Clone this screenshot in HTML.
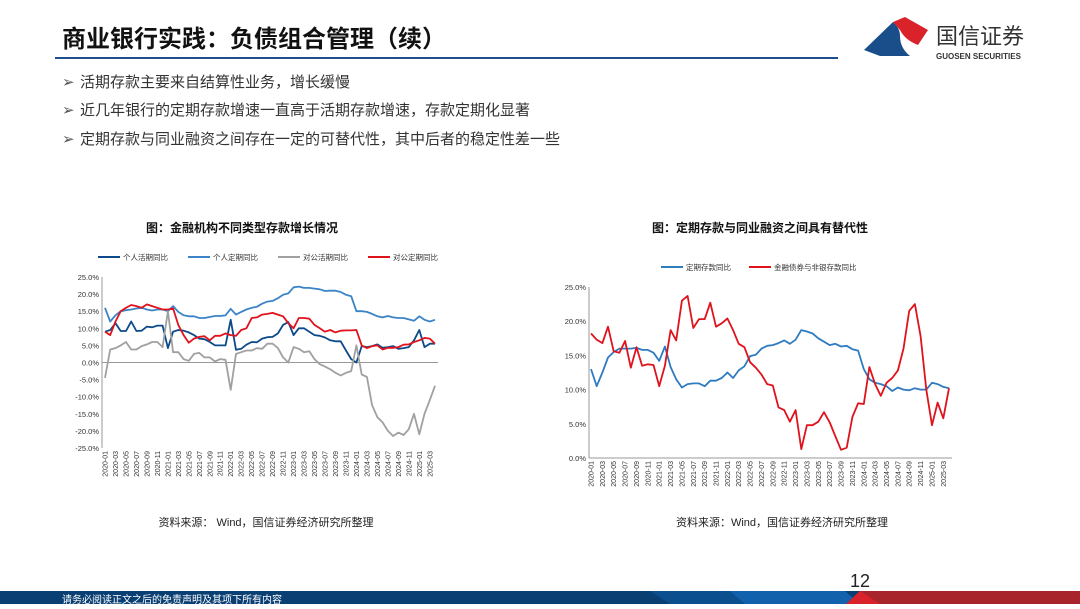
<!DOCTYPE html>
<html><head><meta charset="utf-8"><style>
body{margin:0;width:1080px;height:604px;overflow:hidden;background:#fff;font-family:"Liberation Sans","Noto Sans CJK SC",sans-serif;}
svg text{font-family:"Liberation Sans","Noto Sans CJK SC",sans-serif;}
</style></head><body>
<svg id="page" width="1080" height="604" viewBox="0 0 1080 604">
<text x="62" y="47" font-size="24" font-weight="bold" fill="#111">商业银行实践：负债组合管理（续）</text>
<rect x="55" y="57" width="783" height="2" fill="#1f4e8c"/>
<g>
<path d="M864 50 L893 22 Q900 28 900 36 Q900 48 910 56 L880 56 Z" fill="#1a4e8a"/>
<path d="M893 22 L905 17 L928 30 L918 45 Q905 40 900 30 Z" fill="#d9222a"/>
<text x="936" y="44" font-size="22" fill="#333">国信证券</text>
<text x="936" y="59" font-size="8" font-weight="bold" fill="#333">GUOSEN SECURITIES</text>
</g>
<g font-size="15" fill="#333">
<text x="62" y="87"><tspan fill="#555">➢</tspan><tspan x="80">活期存款主要来自结算性业务，增长缓慢</tspan></text>
<text x="62" y="115"><tspan fill="#555">➢</tspan><tspan x="80">近几年银行的定期存款增速一直高于活期存款增速，存款定期化显著</tspan></text>
<text x="62" y="144"><tspan fill="#555">➢</tspan><tspan x="80">定期存款与同业融资之间存在一定的可替代性，其中后者的稳定性差一些</tspan></text>
</g>
<text x="242" y="232" font-size="12" font-weight="bold" text-anchor="middle" fill="#111">图：金融机构不同类型存款增长情况</text>
<text x="760" y="232" font-size="12" font-weight="bold" text-anchor="middle" fill="#111">图：定期存款与同业融资之间具有替代性</text>
<g id="left"></g>
<g id="right"></g>
<text x="266" y="526" font-size="11" text-anchor="middle" fill="#222">资料来源： Wind，国信证券经济研究所整理</text>
<text x="782" y="526" font-size="11" text-anchor="middle" fill="#222">资料来源：Wind，国信证券经济研究所整理</text>
<text x="850" y="587" font-size="18" fill="#222">12</text>
<g>
<rect x="0" y="591" width="1080" height="13" fill="#0a3f73"/>
<path d="M650 591 L830 591 L850 604 L670 604 Z" fill="#0b4f8f"/>
<path d="M730 591 L845 591 L860 604 L745 604 Z" fill="#1261ad"/>
<path d="M860 591 L1080 591 L1080 604 L846 604 Z" fill="#a8252c"/>
<path d="M860 591 L880 604 L846 604 Z" fill="#d9222a"/>
<text x="62" y="603" font-size="10" fill="#fff">请务必阅读正文之后的免责声明及其项下所有内容</text>
</g>
</svg>
<script>
const months=[];for(let y=2020;y<=2025;y++)for(let m=1;m<=12;m++){if(y===2025&&m>4)break;months.push(y+'-'+String(m).padStart(2,'0'));}
const personalDemand=[9,9.5,11.5,9.2,9.2,12,9.2,9.3,10.5,10.3,10.8,10.8,4.2,9,9.5,9.3,8.8,8,7,6.8,6,5,5,5,12.5,3.7,4,5.2,6,5.9,7,7.4,7.5,8.5,11,11.8,8,10,10,9,8,7.8,7.3,6.5,6.2,6.2,3.5,1,0,4.8,4.5,4.8,5.3,4.3,4.5,4.8,4,4.2,4.5,6.5,9.5,4.5,5.5,5.5];
const personalTime=[16,12,13.8,15,15.3,15.5,15.8,16,15.5,15.2,15.5,15.5,15,16.5,14.8,13.8,13.5,13.5,13,13,13.3,13.6,13.6,13.8,15.7,14,14.8,15.5,16,16.3,17.2,17.8,18,18.8,19.8,20.2,22,22.2,21.8,21.8,21.6,21.4,20.9,21,21,20.6,19.8,19.4,15,15,14.8,14.2,13.5,13.2,13.6,13.2,13,13,12.6,12.2,13.5,12.5,12,12.5];
const corpDemand=[-4.5,3.8,4.2,5,6,3.8,3.8,4.8,5.3,6,6,4.5,15,3,3,1,0.5,2.5,2.8,1.5,1.5,0.3,1,0.8,-8,2.5,3,3.5,3.5,4.2,4,5.5,5.5,4.2,1.5,0,4.5,4,3,3.3,1,-0.5,-1.2,-2,-3,-3.8,-3,-2.5,5,-3.5,-4.2,-12.5,-16,-17.5,-20,-21.5,-20.5,-21.2,-19.5,-15,-21,-15,-11,-6.8];
const corpTime=[9,8,12,15,16,16.8,16.5,16,17,16.5,16,15.5,15.5,15.8,11,8,5.8,7,7.5,7.7,6.5,7.8,7.8,8.5,8,7.8,9.5,10,13,13.2,14,14.2,14.5,14,13.5,11.5,10,13,13,12.8,11,10,9,9.5,8.8,9.3,9.4,9.4,9.5,5,4.2,4.8,5,3.8,4.3,4.3,4.5,5.2,5.3,6,6.5,7.2,7,5.5];
const timeDeposit=[13,10.5,12.5,14.7,15.5,16,16,16,16.1,15.8,15.8,15.4,14.2,16.3,13.3,11.5,10.3,10.8,10.9,10.9,10.5,11.3,11.3,11.7,12.5,11.7,12.8,13.4,14.9,15.1,16,16.4,16.5,16.8,17.2,16.7,17.3,18.7,18.5,18.2,17.5,17,16.5,16.7,16.3,16.4,15.9,15.7,13,11.5,11,10.8,10.5,9.8,10.3,10,9.9,10.2,10,10,11,10.8,10.4,10.2];
const interbank=[18.2,17.3,16.8,19.2,15.6,15.4,17.1,13.2,16.2,13.5,13.7,13.6,10.5,13.5,18.7,17.2,23,23.7,19,20.3,20.3,22.7,19.2,19.7,20.4,18.7,16.7,16.2,14,13.2,12.2,10.8,10.6,7.4,7,5.3,7,1.3,4.8,4.8,5.3,6.7,5.2,3.2,1.2,1.5,6,8,7.9,13.3,10.8,9.1,11,11.7,12.8,16,21.5,22.5,17.8,10,4.8,8.1,5.8,10.2];
const leftTicks=[25,20,15,10,5,0,-5,-10,-15,-20,-25];
const rightTicks=[25,20,15,10,5,0];
const NS='http://www.w3.org/2000/svg';
function mk(p,t,a){const e=document.createElementNS(NS,t);for(const k in a)e.setAttribute(k,a[k]);p.appendChild(e);return e;}
function chart(g,o){
 const xs=i=>o.x0+(o.x1-o.x0)*i/(months.length-1);
 const ys=v=>o.yTop+(o.ymax-v)/(o.ymax-o.ymin)*(o.yBot-o.yTop);
 const ax=mk(g,'line',{x1:o.axX,x2:o.axX,y1:o.yTop,y2:o.yBot,stroke:'#999','stroke-width':1});
 
 
 const z=mk(g,'line',{x1:o.axX,x2:o.x1+3,y1:ys(0),y2:ys(0),stroke:'#999','stroke-width':1});
 
 
 o.ticks.forEach(t=>{const e=mk(g,'text',{x:o.axX-3,y:ys(t)+3,'font-size':7.5,'text-anchor':'end',fill:'#333'});e.textContent=t.toFixed(1)+'%';
  
  });
 months.forEach((m,i)=>{if(i%2)return;const x=xs(i),y=o.yBot+3;const e=mk(g,'text',{x:x+2.5,y:y,'font-size':7,'text-anchor':'end',fill:'#333',transform:`rotate(-90 ${x+2.5} ${y})`});e.textContent=m;
  
  });
 o.series.forEach(s=>{const p=mk(g,'polyline',{points:s.d.map((v,i)=>xs(i).toFixed(1)+','+ys(v).toFixed(1)).join(' '),fill:'none',stroke:s.c,'stroke-width':1.8,'stroke-linejoin':'round'});
  
  });
 let lx=o.legX;o.series.forEach(s=>{const lg=mk(g,'g',{});
  
  
  mk(lg,'line',{x1:lx,x2:lx+22,y1:o.legY,y2:o.legY,stroke:s.c,'stroke-width':2});
  const t=mk(lg,'text',{x:lx+25,y:o.legY+3,'font-size':7.5,fill:'#333'});t.textContent=s.n;lx+=25+s.n.length*7.5+o.gap;});
}
chart(document.getElementById('left'),{x0:105,x1:435,axX:102,yTop:277,yBot:448,ymin:-25,ymax:25,ticks:leftTicks,legX:98,legY:257,gap:20,series:[
 {id:'personal-demand',n:'个人活期同比',c:'#0d4a8a',d:personalDemand},
 {id:'personal-time',n:'个人定期同比',c:'#3b84c8',d:personalTime},
 {id:'corp-demand',n:'对公活期同比',c:'#a0a0a0',d:corpDemand},
 {id:'corp-time',n:'对公定期同比',c:'#e0121c',d:corpTime}]});
chart(document.getElementById('right'),{x0:591,x1:949,axX:589,yTop:287,yBot:458,ymin:0,ymax:25,ticks:rightTicks,legX:661,legY:267,gap:18,series:[
 {id:'time-deposit',n:'定期存款同比',c:'#2f7bc0',d:timeDeposit},
 {id:'interbank',n:'金融债券与非银存款同比',c:'#e0121c',d:interbank}]});
</script>
</body></html>
